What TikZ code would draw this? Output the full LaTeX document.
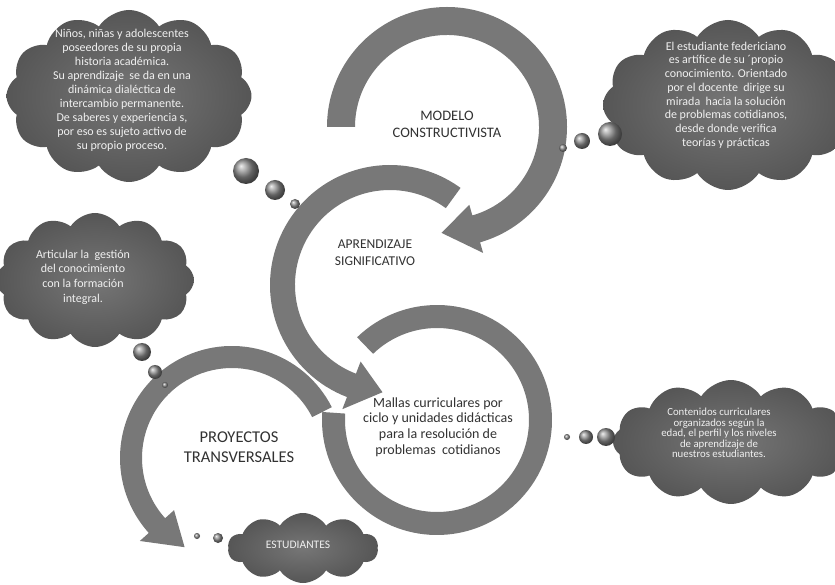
\documentclass[tikz,border=0pt]{standalone}
\usepackage{fontspec}
\setmainfont{Carlito}
\usetikzlibrary{calc,shapes.symbols}
\definecolor{ringgray}{RGB}{120,120,120}
\definecolor{clouddark}{RGB}{86,86,86}
\definecolor{cloudlight}{RGB}{118,118,118}
\definecolor{cloudtxt}{RGB}{240,240,240}
\definecolor{labeltxt}{RGB}{50,50,50}

% ring arrow: center, inner r, outer r, start angle, head base angle, tip angle, wing
\newcommand{\ringarrow}[7]{%
  \fill[ringgray] ($(#1)+(#4:#3)$) arc[start angle=#4, end angle=#5, radius=#3]
    -- ($(#1)+(#5:{#3+#7})$) -- ($(#1)+(#6:{(#2+#3)/2})$)
    -- ($(#1)+(#5:{#2-#7})$) -- ($(#1)+(#5:#2)$)
    arc[start angle=#5, end angle=#4, radius=#2] -- cycle;}

\begin{document}
\begin{tikzpicture}[x=1pt,y=1pt,
  thought/.style={cloud, cloud puffs=12, cloud puff arc=115, cloud ignores aspect,
    inner sep=0pt, inner color=cloudlight, outer color=clouddark},
  thoughttext/.style={align=center, text=cloudtxt},
  bubble/.style={circle, inner sep=0pt, ball color=black!45},
  ringlabel/.style={align=center, text=labeltxt}]
\fill[white] (0,0) rectangle (835,584);
\useasboundingbox (0,0) rectangle (835,584);
% Ring centres
\coordinate (c1) at (447,457);
\coordinate (c2) at (390,299);
\coordinate (c3) at (437,164);
\coordinate (c4) at (232,126);
% Circular arrows
\ringarrow{c1}{92}{120}{180}{-74}{-93}{11}
\ringarrow{c2}{95}{120}{54}{249}{266}{13}
\fill[ringgray] ($(c3)+(134:115)$) arc[start angle=134, end angle=-184, radius=115]
  -- ($(c3)+(-184:92)$) arc[start angle=-184, end angle=134, radius=92] -- cycle;
\ringarrow{c4}{90}{112}{27}{222}{242}{12}
% Ring labels
\node[ringlabel, font=\fontsize{14.5}{17}\selectfont] (modelo) at (447,460) {MODELO\\CONSTRUCTIVISTA};
\node[ringlabel, font=\fontsize{13.5}{16.7}\selectfont] (aprendizaje) at (375,331) {APRENDIZAJE\\SIGNIFICATIVO};
\node[ringlabel, font=\fontsize{14}{15.7}\selectfont] (mallas) at (438,157) {Mallas curriculares por\\ciclo y unidades didácticas\\para la resolución de\\problemas\ \ cotidianos};
\node[ringlabel, font=\fontsize{16.5}{20}\selectfont] (proyectos) at (239,137) {PROYECTOS\\TRANSVERSALES};
% Thought clouds
\node[thought, minimum width=245pt, minimum height=172pt] (nube1) at (129,488) {};
\node[thought, minimum width=250pt, minimum height=170pt] (nube2) at (728,479) {};
\node[thought, minimum width=198pt, minimum height=134pt] (nube3) at (95,304) {};
\node[thought, minimum width=236pt, minimum height=124pt] (nube4) at (731,142) {};
\node[thought, cloud puffs=10, minimum width=150pt, minimum height=70pt] (nube5) at (303,36) {};
\node[thoughttext, font=\fontsize{12}{14}\selectfont] (txt1) at (122,494) {Niños, niñas y adolescentes\\poseedores de su propia\\historia académica.\\Su aprendizaje\ \ se da en una\\dinámica dialéctica de\\intercambio permanente.\\De saberes y experiencia s,\\por eso es sujeto activo de\\su propio proceso.};
\node[thoughttext, font=\fontsize{12}{13.7}\selectfont] (txt2) at (726,489) {El estudiante federiciano\\es artífice de su ´propio\\conocimiento. Orientado\\por el docente\ \ dirige su\\mirada\ \ hacia la solución\\de problemas cotidianos,\\desde donde verifica\\teorías y prácticas};
\node[thoughttext, font=\fontsize{12}{14.7}\selectfont] (txt3) at (83,307) {Articular la\ \ gestión\\del conocimiento\\con la formación\\integral.};
\node[thoughttext, font=\fontsize{10.8}{10.5}\selectfont] (txt4) at (719,151) {Contenidos curriculares\\organizados según la\\edad, el perfil y los niveles\\de aprendizaje de\\nuestros estudiantes.};
\node[thoughttext, font=\fontsize{11.5}{12}\selectfont] (txt5) at (298,39) {ESTUDIANTES};
% Bubbles
\node[bubble, minimum size=26pt] (b1a) at (246,413) {};
\node[bubble, minimum size=20pt] (b1b) at (275,394) {};
\node[bubble, minimum size=10pt] (b1c) at (295,380) {};
\node[bubble, minimum size=24pt] (b2a) at (610,450) {};
\node[bubble, minimum size=16pt] (b2b) at (582,443) {};
\node[bubble, minimum size=8pt] (b2c) at (563,436) {};
\node[bubble, minimum size=18pt] (b3a) at (142,232) {};
\node[bubble, minimum size=14pt] (b3b) at (155,212) {};
\node[bubble, minimum size=6pt] (b3c) at (165,199) {};
\node[bubble, minimum size=18pt] (b4a) at (606,147) {};
\node[bubble, minimum size=14pt] (b4b) at (586,147) {};
\node[bubble, minimum size=6pt] (b4c) at (567,147) {};
\node[bubble, minimum size=10pt] (b5a) at (218,46) {};
\node[bubble, minimum size=6pt] (b5b) at (197,48) {};
\end{tikzpicture}
\end{document}
